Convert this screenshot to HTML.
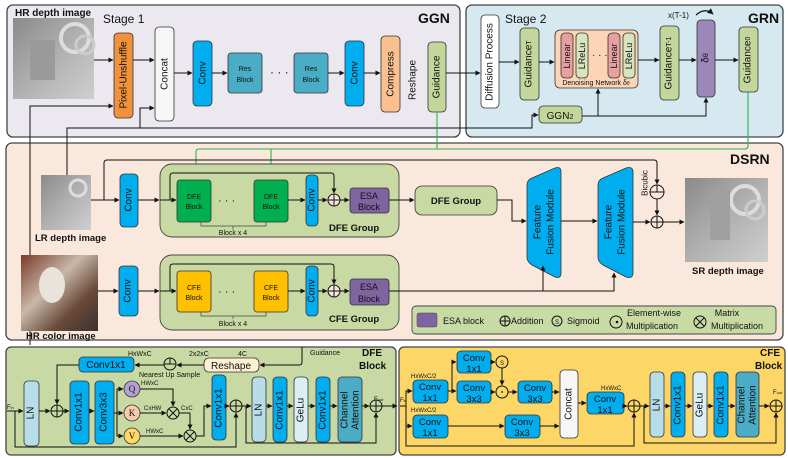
<!DOCTYPE html>
<html><head><meta charset="utf-8"><style>
html,body{margin:0;padding:0;background:#fff}
svg{display:block}
text{font-family:"Liberation Sans",sans-serif;fill:#111}
.b{font-weight:bold}
</style></head><body>
<svg width="788" height="458" viewBox="0 0 788 458" xmlns="http://www.w3.org/2000/svg">
<defs>
<marker id="a" viewBox="0 0 10 10" refX="9" refY="5" markerWidth="5" markerHeight="5" orient="auto"><path d="M0,0L10,5L0,10z" fill="#111"/></marker>
<marker id="g" viewBox="0 0 10 10" refX="9" refY="5" markerWidth="5" markerHeight="5" orient="auto"><path d="M0,0L10,5L0,10z" fill="#2db34a"/></marker>
<linearGradient id="dep" x1="0" y1="0" x2="1" y2="1"><stop offset="0" stop-color="#8a8a8a"/><stop offset="0.5" stop-color="#b0b0b0"/><stop offset="1" stop-color="#cfcfcf"/></linearGradient>
<linearGradient id="col" x1="0" y1="0" x2="1" y2="1"><stop offset="0" stop-color="#7a3a2a"/><stop offset="0.4" stop-color="#c8b8a8"/><stop offset="0.7" stop-color="#6a4a3a"/><stop offset="1" stop-color="#3a3030"/></linearGradient>
</defs>
<g stroke="#111" stroke-width="1.3" fill="none">
<rect x="7" y="5" width="453" height="132" rx="6" fill="#ece8f0" stroke="#444"/>
<rect x="466" y="5" width="317" height="132" rx="6" fill="#d6e9f0" stroke="#444"/>
<rect x="6" y="143" width="777" height="197" rx="6" fill="#fbe8dc" stroke="#444"/>
<rect x="6" y="347" width="390" height="108" rx="5" fill="#c8d9a4" stroke="#444"/>
<rect x="399" y="347" width="386" height="108" rx="5" fill="#fcd666" stroke="#444"/>
</g>
<text x="15" y="16" font-size="10" class="b">HR depth image</text>
<rect x="13" y="18" width="81" height="81" fill="url(#dep)"/>
<circle cx="75" cy="38" r="14" fill="none" stroke="#ddd" stroke-width="4"/>
<circle cx="85" cy="45" r="9" fill="none" stroke="#ccc" stroke-width="3"/>
<rect x="30" y="40" width="25" height="40" fill="#9a9a9a"/>
<text x="103" y="23" font-size="12">Stage 1</text>
<text x="418" y="23" font-size="14" class="b">GGN</text>
<g stroke="#333" stroke-width="0.8">
<rect x="114" y="33" width="19" height="85" rx="4" fill="#f0913c"/>
<rect x="155" y="27" width="19" height="94" rx="4" fill="#f7f7f7"/>
<rect x="193" y="41" width="19" height="65" rx="4" fill="#00aeef"/>
<rect x="228" y="53" width="34" height="40" rx="3" fill="#4bacc6"/>
<rect x="294" y="53" width="34" height="40" rx="3" fill="#4bacc6"/>
<rect x="345" y="41" width="19" height="65" rx="4" fill="#00aeef"/>
<rect x="381" y="36" width="19" height="76" rx="4" fill="#fac08f"/>
<rect x="428" y="42" width="18" height="70" rx="4" fill="#c3d69b"/>
</g>
<g font-size="10" text-anchor="middle" dominant-baseline="central">
<text transform="translate(124,75) rotate(-90)">Pixel-Unshuffle</text>
<text transform="translate(165,74) rotate(-90)">Concat</text>
<text transform="translate(203,73) rotate(-90)">Conv</text>
<text transform="translate(355,73) rotate(-90)">Conv</text>
<text transform="translate(391,74) rotate(-90)">Compress</text>
<text transform="translate(413,80) rotate(-90)">Reshape</text>
<text transform="translate(437,77) rotate(-90)">Guidance</text>
</g>
<g font-size="7" text-anchor="middle"><text x="245" y="71">Res</text><text x="245" y="82">Block</text><text x="311" y="71">Res</text><text x="311" y="82">Block</text></g>
<text x="270" y="76" font-size="12">· · ·</text>
<g stroke="#111" stroke-width="1" fill="none" marker-end="url(#a)">
<line x1="94" y1="60" x2="113" y2="60"/>
<line x1="133" y1="60" x2="154" y2="60"/>
<line x1="174" y1="73" x2="192" y2="73"/>
<line x1="212" y1="73" x2="227" y2="73"/>
<line x1="328" y1="73" x2="344" y2="73"/>
<line x1="364" y1="73" x2="380" y2="73"/>
<line x1="446" y1="73" x2="480" y2="73"/>
<path d="M30,345 V106 H113"/>
<path d="M67,175 V128 H140 V108 H154"/>
<path d="M140,128 H532 V115 H538"/>
</g>
<text x="505" y="23" font-size="12">Stage 2</text>
<text x="748" y="23" font-size="14" class="b">GRN</text>
<g stroke="#333" stroke-width="0.8">
<rect x="481" y="15" width="18" height="93" rx="4" fill="#fff"/>
<rect x="520" y="28" width="19" height="72" rx="4" fill="#c3d69b"/>
<rect x="555" y="30" width="83" height="58" rx="5" fill="#fbd5b5"/>
<rect x="561" y="33" width="12" height="45" rx="4" fill="#e6a0a0"/>
<rect x="576" y="33" width="12" height="45" rx="4" fill="#d7e4bd"/>
<rect x="608" y="33" width="12" height="45" rx="4" fill="#e6a0a0"/>
<rect x="623" y="33" width="12" height="45" rx="4" fill="#d7e4bd"/>
<rect x="660" y="26" width="19" height="74" rx="4" fill="#c3d69b"/>
<rect x="697" y="20" width="18" height="77" rx="4" fill="#9b87b8"/>
<rect x="739" y="27" width="19" height="65" rx="4" fill="#c3d69b"/>
<rect x="539" y="106" width="43" height="17" rx="4" fill="#c3d69b"/>
</g>
<g font-size="10" text-anchor="middle" dominant-baseline="central">
<text transform="translate(490,62) rotate(-90)">Diffusion Process</text>
<text transform="translate(529,64) rotate(-90)">Guidance<tspan font-size="7">T</tspan></text>
<text transform="translate(669,63) rotate(-90)">Guidance<tspan font-size="7">T-1</tspan></text>
<text transform="translate(748,60) rotate(-90)">Guidance<tspan font-size="7">0</tspan></text>
<text transform="translate(706,58) rotate(-90)">δ<tspan font-size="7">θ</tspan></text>
<text transform="translate(567,56) rotate(-90)" font-size="9">Linear</text>
<text transform="translate(582,56) rotate(-90)" font-size="9">LReLu</text>
<text transform="translate(614,56) rotate(-90)" font-size="9">Linear</text>
<text transform="translate(629,56) rotate(-90)" font-size="9">LReLu</text>
</g>
<text x="592" y="58" font-size="10">· · ·</text>
<text x="596" y="85" font-size="7" text-anchor="middle">Denoising Network δ<tspan font-size="5">θ</tspan></text>
<text x="560" y="119" font-size="10" text-anchor="middle">GGN<tspan font-size="7">2</tspan></text>
<text x="668" y="18" font-size="8">x(T-1)</text>
<path d="M696,15 Q705,7 713,14" fill="none" stroke="#111" stroke-width="1.2" marker-end="url(#a)"/>
<g stroke="#111" stroke-width="1" fill="none" marker-end="url(#a)">
<line x1="499" y1="62" x2="519" y2="62"/>
<line x1="539" y1="62" x2="554" y2="62"/>
<line x1="638" y1="60" x2="659" y2="60"/>
<line x1="679" y1="60" x2="696" y2="60"/>
<line x1="715" y1="60" x2="738" y2="60"/>
<path d="M582,116 H598 V89"/>
<path d="M598,116 H706 V98"/>
</g>
<g stroke="#2db34a" stroke-width="1.1" fill="none">
<path d="M437,112 V149"/>
<path d="M748,92 V146 Q748,149 745,149 H199 Q196,149 196,152 V179" marker-end="url(#g)"/>
<path d="M271,149 V179" marker-end="url(#g)"/>
</g>
<text x="730" y="164" font-size="14" class="b">DSRN</text>
<rect x="41" y="175" width="50" height="55" fill="url(#dep)"/>
<circle cx="78" cy="188" r="8" fill="none" stroke="#ddd" stroke-width="3"/>
<text x="35" y="241" font-size="9.5" class="b">LR depth image</text>
<rect x="21" y="255" width="77" height="76" fill="url(#col)"/>
<ellipse cx="52" cy="285" rx="13" ry="18" fill="#e8e4dc"/>
<text x="26" y="339" font-size="9.5" class="b">HR color image</text>
<g stroke="#444" stroke-width="0.9">
<rect x="160" y="164" width="239" height="73" rx="12" fill="#c8d9a4"/>
<rect x="160" y="255" width="239" height="75" rx="12" fill="#c8d9a4"/>
</g>
<g stroke="#333" stroke-width="0.8">
<rect x="120" y="174" width="18" height="53" rx="4" fill="#00aeef"/>
<rect x="119" y="266" width="19" height="50" rx="4" fill="#00aeef"/>
<rect x="177" y="180" width="34" height="42" rx="3" fill="#00b050"/>
<rect x="254" y="180" width="34" height="42" rx="3" fill="#00b050"/>
<rect x="177" y="271" width="34" height="41" rx="3" fill="#ffc000"/>
<rect x="254" y="271" width="34" height="41" rx="3" fill="#ffc000"/>
<rect x="306" y="175" width="12" height="51" rx="4" fill="#00aeef"/>
<rect x="306" y="266" width="12" height="50" rx="4" fill="#00aeef"/>
<rect x="350" y="188" width="39" height="25" rx="3" fill="#8064a2"/>
<rect x="350" y="279" width="39" height="26" rx="3" fill="#8064a2"/>
<rect x="415" y="186" width="82" height="29" rx="7" fill="#c8d9a4"/>
<path d="M527,185 Q527,180 532,178 L555,168 Q561,166 561,172 V273 Q561,279 555,277 L532,265 Q527,262 527,257 Z" fill="#00aeef"/>
<path d="M598,185 Q598,180 603,178 L626,168 Q633,166 633,172 V273 Q633,279 626,277 L603,265 Q598,262 598,257 Z" fill="#00aeef"/>
</g>
<g font-size="10" text-anchor="middle" dominant-baseline="central">
<text transform="translate(129,200) rotate(-90)">Conv</text>
<text transform="translate(128,291) rotate(-90)">Conv</text>
<text transform="translate(312,200) rotate(-90)">Conv</text>
<text transform="translate(312,291) rotate(-90)">Conv</text>
<text transform="translate(538,222) rotate(-90)">Feature</text>
<text transform="translate(551,222) rotate(-90)">Fusion Module</text>
<text transform="translate(609,222) rotate(-90)">Feature</text>
<text transform="translate(622,222) rotate(-90)">Fusion Module</text>
<text transform="translate(645,183) rotate(-90)" font-size="8">Bicubic</text>
</g>
<g font-size="7" text-anchor="middle"><text x="194" y="199">DFE</text><text x="194" y="209">Block</text><text x="271" y="199">DFE</text><text x="271" y="209">Block</text>
<text x="194" y="290">CFE</text><text x="194" y="300">Block</text><text x="271" y="290">CFE</text><text x="271" y="300">Block</text>
<text x="233" y="235">Block x 4</text><text x="233" y="326">Block x 4</text></g>
<g font-size="9" text-anchor="middle" fill="#fff"><text x="369" y="199">ESA</text><text x="369" y="210">Block</text><text x="369" y="290">ESA</text><text x="369" y="302">Block</text></g>
<text x="218" y="204" font-size="11">· · ·</text><text x="218" y="295" font-size="11">· · ·</text>
<path d="M201,222 V226 H266 V222 M233,226 V229" fill="none" stroke="#444" stroke-width="0.7"/>
<path d="M201,312 V316 H266 V312 M233,316 V319" fill="none" stroke="#444" stroke-width="0.7"/>
<text x="329" y="231" font-size="9.5" class="b">DFE Group</text>
<text x="329" y="322" font-size="9.5" class="b">CFE Group</text>
<text x="456" y="204" font-size="9.5" class="b" text-anchor="middle">DFE Group</text>
<text x="692" y="274" font-size="9.5" class="b">SR depth image</text>
<rect x="685" y="178" width="83" height="84" fill="url(#dep)"/>
<circle cx="745" cy="200" r="14" fill="none" stroke="#ddd" stroke-width="4"/>
<circle cx="755" cy="210" r="9" fill="none" stroke="#ccc" stroke-width="3"/>
<rect x="710" y="190" width="20" height="50" fill="#a0a0a0"/>
<g stroke="#111" stroke-width="1" fill="#fbe8dc">
<circle cx="334" cy="200" r="6"/><path d="M328,200H340M334,194V206"/>
<circle cx="334" cy="291" r="6"/><path d="M328,291H340M334,285V297"/>
<circle cx="657" cy="192" r="7"/><path d="M650,192H664M657,185V192"/>
<circle cx="657" cy="222" r="6"/><path d="M651,222H663M657,216V228"/>
</g>
<g stroke="#111" stroke-width="1" fill="none" marker-end="url(#a)">
<line x1="91" y1="200" x2="119" y2="200"/>
<line x1="138" y1="200" x2="159" y2="200"/>
<line x1="160" y1="200" x2="176" y2="200"/>
<line x1="288" y1="200" x2="305" y2="200"/>
<line x1="318" y1="200" x2="327" y2="200"/>
<line x1="340" y1="200" x2="349" y2="200"/>
<line x1="389" y1="200" x2="414" y2="200"/>
<path d="M170,200 V176 Q170,173 173,173 H331 Q334,173 334,176 V193"/>
<path d="M104,200 V163 Q104,160 107,160 H654 Q657,160 657,163 V184"/>
<line x1="657" y1="199" x2="657" y2="215"/>
<path d="M497,200 H512 V221 H526"/>
<line x1="561" y1="221" x2="597" y2="221"/>
<line x1="633" y1="222" x2="650" y2="222"/>
<line x1="663" y1="222" x2="684" y2="222"/>
<line x1="98" y1="291" x2="118" y2="291"/>
<line x1="138" y1="291" x2="159" y2="291"/>
<line x1="160" y1="291" x2="176" y2="291"/>
<line x1="288" y1="291" x2="305" y2="291"/>
<line x1="318" y1="291" x2="327" y2="291"/>
<path d="M170,291 V267 Q170,264 173,264 H331 Q334,264 334,267 V284"/>
<line x1="340" y1="291" x2="349" y2="291"/>
<path d="M389,291 H614 V273"/>
<line x1="543" y1="291" x2="543" y2="266"/>
</g>
<rect x="412" y="306" width="364" height="28" rx="4" fill="#c9dba5" stroke="#444" stroke-width="0.9"/>
<rect x="417" y="313" width="20" height="14" rx="2" fill="#8064a2" stroke="#444" stroke-width="0.5"/>
<g font-size="9"><text x="443" y="324">ESA block</text><text x="511" y="324">Addition</text><text x="567" y="324">Sigmoid</text>
<text x="627" y="316">Element-wise</text><text x="626" y="329">Multiplication</text><text x="727" y="316" text-anchor="middle">Matrix</text><text x="711" y="329">Multiplication</text></g>
<g stroke="#111" stroke-width="1" fill="none">
<circle cx="505" cy="321" r="5"/><path d="M500,321H510M505,316V326"/>
<circle cx="557" cy="321" r="5"/><circle cx="616" cy="322" r="6"/><circle cx="617" cy="322" r="0.8" fill="#111"/>
<circle cx="700" cy="322" r="6"/><path d="M696,318L704,326M704,318L696,326"/>
</g>
<text x="557" y="324" font-size="6" text-anchor="middle">S</text>
<text x="362" y="356" font-size="10" class="b">DFE</text><text x="359" y="369" font-size="10" class="b">Block</text>
<text x="310" y="355" font-size="7">Guidance</text>
<text x="238" y="356" font-size="7">4C</text><text x="189" y="356" font-size="7">2x2xC</text><text x="128" y="356" font-size="7">HxWxC</text>
<text x="139" y="377" font-size="7">Nearest Up Sample</text>
<g stroke="#333" stroke-width="0.8">
<rect x="204" y="358" width="55" height="14" rx="5" fill="#fdf1d2"/>
<rect x="79" y="357" width="55" height="15" rx="4" fill="#00aeef"/>
<rect x="24" y="381" width="15" height="65" rx="4" fill="#b7dde8"/>
<rect x="70" y="381" width="19" height="63" rx="4" fill="#00aeef"/>
<rect x="95" y="381" width="19" height="63" rx="4" fill="#00aeef"/>
<rect x="212" y="375" width="14" height="65" rx="4" fill="#00aeef"/>
<rect x="252" y="377" width="14" height="65" rx="4" fill="#b7dde8"/>
<rect x="273" y="377" width="14" height="65" rx="4" fill="#00aeef"/>
<rect x="294" y="377" width="14" height="65" rx="4" fill="#daeef3"/>
<rect x="316" y="377" width="14" height="65" rx="4" fill="#00aeef"/>
<rect x="338" y="377" width="24" height="65" rx="4" fill="#4bacc6"/>
<circle cx="132" cy="389" r="8" fill="#b4a0d0"/>
<circle cx="132" cy="413" r="8" fill="#f8cbad"/>
<circle cx="132" cy="436" r="8" fill="#ffd966"/>
</g>
<text x="231" y="369" font-size="10" text-anchor="middle">Reshape</text>
<text x="106" y="368" font-size="10" text-anchor="middle">Conv1x1</text>
<g font-size="9" text-anchor="middle"><text x="132" y="392" style="font-family:'Liberation Serif',serif">Q</text><text x="132" y="416" style="font-family:'Liberation Serif',serif">K</text><text x="132" y="439" style="font-family:'Liberation Serif',serif">V</text></g>
<g font-size="10" text-anchor="middle" dominant-baseline="central">
<text transform="translate(31,413) rotate(-90)">LN</text>
<text transform="translate(79,412) rotate(-90)">Conv1x1</text>
<text transform="translate(104,412) rotate(-90)">Conv3x3</text>
<text transform="translate(219,408) rotate(-90)">Conv1x1</text>
<text transform="translate(259,410) rotate(-90)">LN</text>
<text transform="translate(280,410) rotate(-90)">Conv1x1</text>
<text transform="translate(301,410) rotate(-90)">GeLu</text>
<text transform="translate(323,410) rotate(-90)">Conv1x1</text>
<text transform="translate(345,410) rotate(-90)">Channel</text>
<text transform="translate(356,410) rotate(-90)">Attention</text>
</g>
<g font-size="6"><text x="141" y="385">HWxC</text><text x="144" y="410">CxHW</text><text x="146" y="433">HWxC</text><text x="181" y="410">CxC</text>
<text x="7" y="409">F<tspan font-size="4">in</tspan></text><text x="374" y="401">F<tspan font-size="4">out</tspan></text></g>
<g stroke="#111" stroke-width="1" fill="#c8d9a4">
<circle cx="170" cy="364" r="6"/><path d="M164,364H176M170,358V364"/>
<circle cx="57" cy="411" r="6"/><path d="M51,411H63M57,405V417"/>
<circle cx="173" cy="413" r="6"/><path d="M169,409L177,417M177,409L169,417"/>
<circle cx="190" cy="436" r="6"/><path d="M186,432L194,440M194,432L186,440"/>
<circle cx="236" cy="406" r="6"/><path d="M230,406H242M236,400V412"/>
<circle cx="376" cy="406" r="6"/><path d="M370,406H382M376,400V412"/>
</g>
<g stroke="#111" stroke-width="1" fill="none" marker-end="url(#a)">
<path d="M302,347 V362 Q302,365 299,365 H260"/>
<line x1="204" y1="365" x2="177" y2="365"/>
<line x1="164" y1="365" x2="135" y2="365"/>
<path d="M79,365 H57 V404"/>
<line x1="7" y1="411" x2="23" y2="411"/>
<line x1="39" y1="411" x2="50" y2="411"/>
<line x1="63" y1="411" x2="69" y2="411"/>
<line x1="89" y1="411" x2="94" y2="411"/>
<path d="M114,413 H117 V389 H123"/>
<line x1="114" y1="413" x2="123" y2="413"/>
<path d="M117,413 V436 H123"/>
<path d="M140,389 H173 V406"/>
<line x1="140" y1="413" x2="166" y2="413"/>
<path d="M179,413 H190 V429"/>
<line x1="140" y1="436" x2="183" y2="436"/>
<path d="M196,436 H204 V406 H211"/>
<line x1="226" y1="406" x2="229" y2="406"/>
<line x1="242" y1="406" x2="251" y2="406"/>
<path d="M15,411 V447 H236 V413"/>
<line x1="266" y1="406" x2="272" y2="406"/>
<line x1="287" y1="406" x2="293" y2="406"/>
<line x1="308" y1="406" x2="315" y2="406"/>
<line x1="330" y1="406" x2="337" y2="406"/>
<line x1="362" y1="406" x2="369" y2="406"/>
<path d="M246,406 V443 H376 V413"/>
<line x1="382" y1="406" x2="397" y2="406"/>
</g>
<text x="760" y="356" font-size="10" class="b">CFE</text><text x="755" y="369" font-size="10" class="b">Block</text>
<g font-size="6"><text x="411" y="378">HxWxC/2</text><text x="411" y="412">HxWxC/2</text><text x="601" y="390">HxWxC</text>
<text x="400" y="402">F<tspan font-size="4">in</tspan></text><text x="773" y="394">F<tspan font-size="4">out</tspan></text></g>
<g stroke="#333" stroke-width="0.8">
<rect x="413" y="380" width="35" height="23" rx="4" fill="#00aeef"/>
<rect x="457" y="351" width="34" height="22" rx="4" fill="#00aeef"/>
<rect x="457" y="381" width="34" height="22" rx="4" fill="#00aeef"/>
<rect x="518" y="381" width="34" height="22" rx="4" fill="#00aeef"/>
<rect x="413" y="415" width="35" height="23" rx="4" fill="#00aeef"/>
<rect x="505" y="415" width="35" height="23" rx="4" fill="#00aeef"/>
<rect x="560" y="370" width="18" height="68" rx="4" fill="#f7f7f7"/>
<rect x="587" y="392" width="37" height="22" rx="4" fill="#00aeef"/>
<rect x="650" y="372" width="14" height="65" rx="4" fill="#b7dde8"/>
<rect x="671" y="372" width="14" height="65" rx="4" fill="#00aeef"/>
<rect x="693" y="372" width="14" height="65" rx="4" fill="#daeef3"/>
<rect x="714" y="372" width="14" height="65" rx="4" fill="#00aeef"/>
<rect x="736" y="372" width="23" height="65" rx="4" fill="#4bacc6"/>
</g>
<g font-size="9.5" text-anchor="middle">
<text x="430" y="390">Conv</text><text x="430" y="401">1x1</text>
<text x="474" y="361">Conv</text><text x="474" y="372">1x1</text>
<text x="474" y="391">Conv</text><text x="474" y="402">3x3</text>
<text x="535" y="391">Conv</text><text x="535" y="402">3x3</text>
<text x="430" y="425">Conv</text><text x="430" y="436">1x1</text>
<text x="522" y="425">Conv</text><text x="522" y="436">3x3</text>
<text x="605" y="402">Conv</text><text x="605" y="413">1x1</text>
</g>
<g font-size="10" text-anchor="middle" dominant-baseline="central">
<text transform="translate(569,404) rotate(-90)">Concat</text>
<text transform="translate(657,405) rotate(-90)">LN</text>
<text transform="translate(678,405) rotate(-90)">Conv1x1</text>
<text transform="translate(700,405) rotate(-90)">GeLu</text>
<text transform="translate(721,405) rotate(-90)">Conv1x1</text>
<text transform="translate(742,405) rotate(-90)">Channel</text>
<text transform="translate(753,405) rotate(-90)">Attention</text>
</g>
<g stroke="#111" stroke-width="1" fill="#fcd666">
<circle cx="502" cy="362" r="6"/><circle cx="502" cy="392" r="6"/>
<circle cx="634" cy="406" r="6"/><path d="M628,406H640M634,400V412"/>
<circle cx="776" cy="406" r="6"/><path d="M770,406H782M776,400V412"/>
</g>
<text x="502" y="365" font-size="6" text-anchor="middle">S</text>
<circle cx="502" cy="392" r="0.9" fill="#111"/>
<g stroke="#111" stroke-width="1" fill="none" marker-end="url(#a)">
<path d="M400,406 H406 V391 H412"/>
<path d="M406,406 V426 H412"/>
<path d="M448,391 H452 V362 H456"/>
<line x1="448" y1="391" x2="456" y2="391"/>
<line x1="491" y1="362" x2="495" y2="362"/>
<line x1="502" y1="368" x2="502" y2="385"/>
<line x1="491" y1="392" x2="495" y2="392"/>
<line x1="508" y1="392" x2="517" y2="392"/>
<line x1="552" y1="392" x2="559" y2="392"/>
<line x1="448" y1="426" x2="504" y2="426"/>
<line x1="540" y1="426" x2="559" y2="426"/>
<line x1="578" y1="403" x2="586" y2="403"/>
<line x1="624" y1="406" x2="627" y2="406"/>
<line x1="640" y1="406" x2="649" y2="406"/>
<path d="M406,426 V446 H634 V413"/>
<line x1="664" y1="406" x2="670" y2="406"/>
<line x1="685" y1="406" x2="692" y2="406"/>
<line x1="707" y1="406" x2="713" y2="406"/>
<line x1="728" y1="406" x2="735" y2="406"/>
<line x1="759" y1="406" x2="769" y2="406"/>
<path d="M644,406 V443 H776 V413"/>
</g>
</svg>
</body></html>
